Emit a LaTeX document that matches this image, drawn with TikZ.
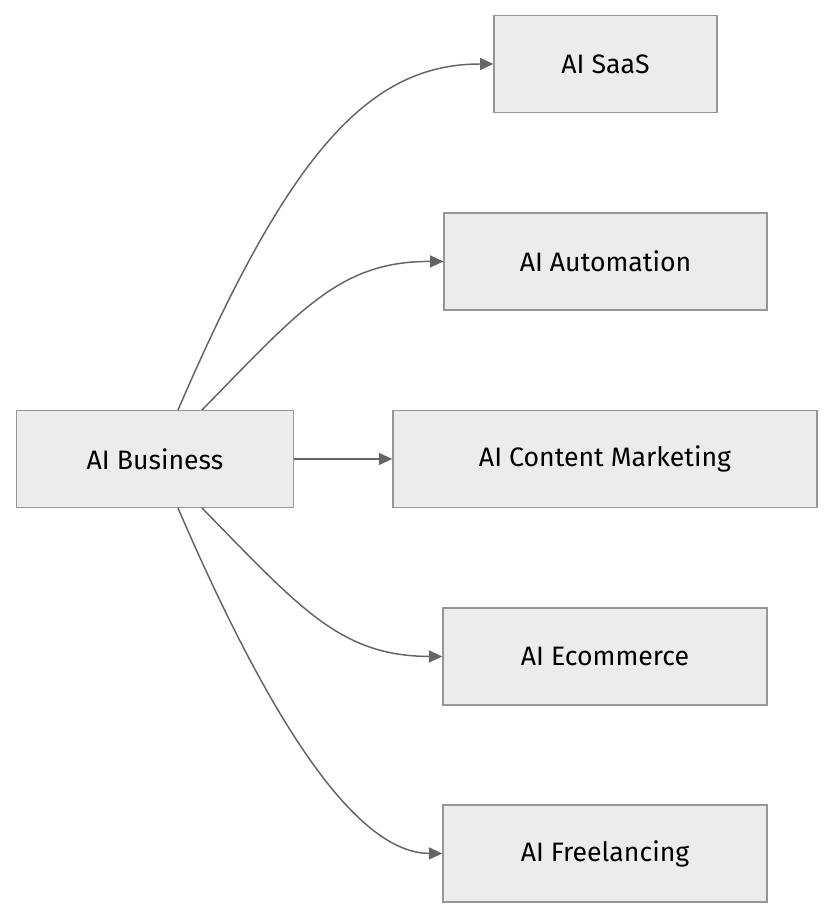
\documentclass[tikz,border=0pt]{standalone}
\usepackage{fontspec}
\setmainfont{Fira Sans}
\usetikzlibrary{arrows.meta}
\tikzstyle{box}=[draw={rgb,255:red,150;green,150;blue,150},fill={rgb,255:red,236;green,236;blue,236},line width=1.2pt,minimum height=73pt,inner sep=0pt,font=\fontsize{20}{24}\selectfont]
\tikzstyle{link}=[draw={rgb,255:red,100;green,100;blue,100},line width=1.1pt,-{Triangle[length=10pt,width=9pt]}]
\begin{document}
\begin{tikzpicture}[x=0.75pt,y=-0.75pt]
\useasboundingbox (0,0) rectangle (834,919);
\node [box,minimum width=208pt] (biz) at (155,459) {AI Business};
\node [box,minimum width=167pt] (saas) at (605.5,64) {AI SaaS};
\node [box,minimum width=242pt] (auto) at (605.5,261.5) {AI Automation};
\node [box,minimum width=318pt] (cont) at (605,459) {AI Content Marketing};
\node [box,minimum width=243pt] (ecom) at (605,656.5) {AI Ecommerce};
\node [box,minimum width=243pt] (free) at (605,853.5) {AI Freelancing};
\coordinate (t1) at (178,410);
\coordinate (t2) at (202,410);
\coordinate (b1) at (178,508);
\coordinate (b2) at (202,508);
\draw [link] (t1) .. controls (290,150) and (370,64) .. (saas.west);
\draw [link] (t2) .. controls (300,310) and (340,261) .. (auto.west);
\draw [link] (biz.east) -- (cont.west);
\draw [link] (b2) .. controls (300,608) and (340,656) .. (ecom.west);
\draw [link] (b1) .. controls (290,768) and (370,853) .. (free.west);
\end{tikzpicture}
\end{document}
